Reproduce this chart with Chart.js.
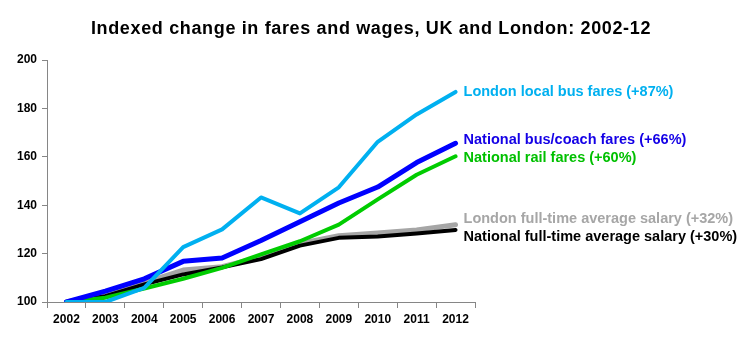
<!DOCTYPE html>
<html>
<head>
<meta charset="utf-8">
<script src="https://cdn.jsdelivr.net/npm/chart.js@4"></script>
<style>
  html, body { margin: 0; padding: 0; background: #fff; }
  #wrap { width: 755px; height: 339px; position: relative; }
</style>
</head>
<body>
<div id="wrap"><canvas id="c" width="755" height="339"></canvas></div>
<script>
// Years on the category axis
const years = ['2002','2003','2004','2005','2006','2007','2008','2009','2010','2011','2012'];

// Index values, 2002 = 100
const londonBus      = [100, 100, 105.8, 122.7, 130, 143.2, 136.6, 147.4, 166.2, 177.5, 186.8];
const nationalBus    = [100, 104.5, 109.6, 116.8, 118.2, 125.4, 133.2, 140.9, 147.5, 157.6, 165.6];
const nationalRail   = [100, 101.8, 105.6, 109.6, 114.1, 119.7, 125.1, 132, 142.4, 152.6, 160.2];
const londonSalary   = [100, 103.4, 108, 113.2, 114.6, 118.6, 124.2, 127.4, 128.5, 129.8, 131.9];
const nationalSalary = [100, 102.4, 107.3, 111.4, 114.3, 117.7, 123.3, 126.5, 127.1, 128.3, 129.8];

// End-of-line labels
const seriesLabels = [
  'London local bus fares (+87%)',
  'National bus/coach fares (+66%)',
  'National rail fares (+60%)',
  'National full-time average salary (+30%)',
  'London full-time average salary (+32%)'
];

const yTicks = [100, 120, 140, 160, 180, 200];

const chartTitle = 'Indexed change in fares and wages, UK and London: 2002-12';

const AXIS = '#868686';
const FONT = '"Liberation Sans", Arial, sans-serif';

// Small vertical nudges so the end labels do not collide
const labelNudge = [0, -3, 2, 7, -6];

// Title centred across the whole figure, including the label margin
const figureTitle = {
  id: 'figureTitle',
  afterDraw(chart) {
    const ctx = chart.ctx;
    ctx.save();
    ctx.font = 'bold 18px ' + FONT;
    if ('letterSpacing' in ctx) ctx.letterSpacing = '0.65px';
    ctx.fillStyle = '#000';
    ctx.textAlign = 'center';
    ctx.textBaseline = 'middle';
    ctx.fillText(chartTitle, 371, 29);
    ctx.restore();
  }
};

const endLabels = {
  id: 'endLabels',
  afterDatasetsDraw(chart) {
    const ctx = chart.ctx;
    const x = chart.scales.x;
    const y = chart.scales.y;
    ctx.save();
    ctx.font = 'bold 14.5px ' + FONT;
    ctx.textBaseline = 'middle';
    ctx.textAlign = 'left';
    chart.data.datasets.forEach((ds, i) => {
      const last = ds.data.length - 1;
      const px = x.getPixelForValue(last) + 8;
      const py = y.getPixelForValue(ds.data[last]) + labelNudge[i];
      ctx.fillStyle = ds.labelColor;
      ctx.fillText(seriesLabels[i], px, py);
    });
    ctx.restore();
  }
};

function ds(data, color, width, labelColor) {
  return {
    data: data,
    borderColor: color,
    backgroundColor: color,
    borderWidth: width,
    pointRadius: 0,
    tension: 0,
    borderCapStyle: 'round',
    borderJoinStyle: 'round',
    labelColor: labelColor
  };
}

new Chart(document.getElementById('c'), {
  type: 'line',
  data: {
    labels: years,
    datasets: [
      ds(londonBus, '#00B0F0', 4, '#00B0F0'),
      ds(nationalBus, '#0000FF', 5, '#1400E6'),
      ds(nationalRail, '#00CC00', 4, '#00C000'),
      ds(nationalSalary, '#000000', 4, '#000000'),
      ds(londonSalary, '#A6A6A6', 5, '#A6A6A6')
    ]
  },
  options: {
    responsive: false,
    animation: false,
    devicePixelRatio: 1,
    layout: { padding: { left: 0, right: 280, top: 60, bottom: 0 } },
    plugins: {
      legend: { display: false },
      tooltip: { enabled: false },
      title: { display: false }
    },
    scales: {
      x: {
        type: 'category',
        offset: true,
        grid: {
          offset: true,
          drawOnChartArea: false,
          drawTicks: true,
          tickLength: 6,
          tickColor: AXIS
        },
        border: { color: AXIS, width: 1 },
        ticks: {
          color: '#000',
          font: { family: FONT, size: 12, weight: 'bold' },
          padding: 4,
          maxRotation: 0,
          autoSkip: false
        },
        afterFit(scale) { scale.height = 37; }
      },
      y: {
        min: 100,
        max: 200,
        afterBuildTicks(scale) { scale.ticks = yTicks.map(v => ({ value: v })); },
        grid: {
          drawOnChartArea: false,
          drawTicks: true,
          tickLength: 5,
          tickColor: AXIS
        },
        border: { color: AXIS, width: 1 },
        ticks: {
          color: '#000',
          font: { family: FONT, size: 12, weight: 'bold' },
          padding: 5
        },
        afterFit(scale) { scale.width = 47; }
      }
    }
  },
  plugins: [endLabels, figureTitle]
});
</script>
</body>
</html>
